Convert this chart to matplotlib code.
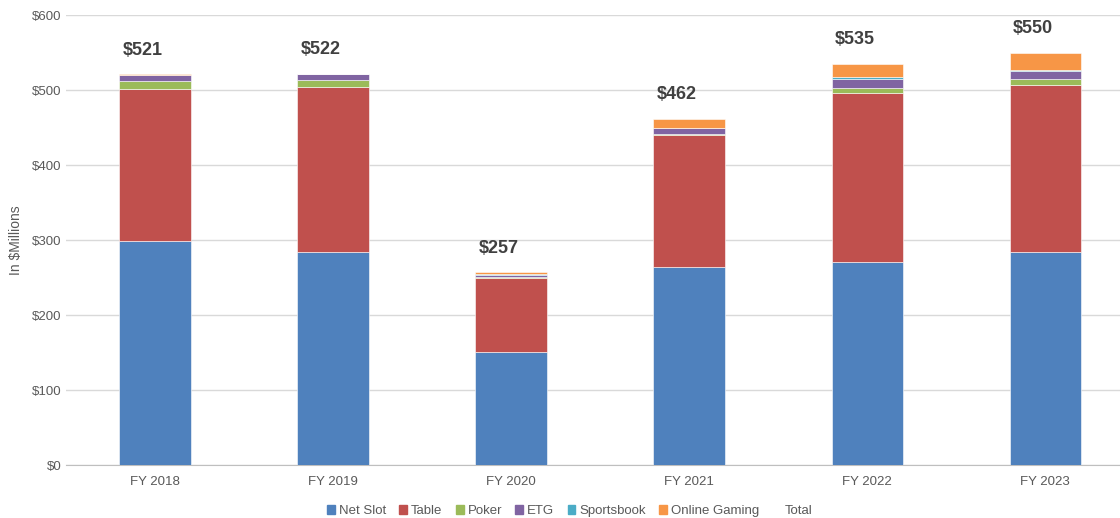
import numpy as np
import matplotlib.pyplot as plt
from matplotlib.lines import Line2D
from matplotlib.patches import Patch

plt.rcParams['font.family'] = ['Liberation Sans', 'DejaVu Sans']

years = ['FY 2018', 'FY 2019', 'FY 2020', 'FY 2021', 'FY 2022', 'FY 2023']
net_slot = [299, 284, 151, 264, 271, 284]
table = [202, 220, 98, 176, 225, 223]
poker = [11, 9, 2, 1, 7, 8]
etg = [8, 9, 3, 9, 12, 11]
sportsbook = [0, 0, 1, 0, 2, 1]
online = [1, 0, 2, 12, 18, 23]
totals = [521, 522, 257, 462, 535, 550]

series = [
    ('Net Slot', net_slot, '#4F81BD'),
    ('Table', table, '#C0504D'),
    ('Poker', poker, '#9BBB59'),
    ('ETG', etg, '#8064A2'),
    ('Sportsbook', sportsbook, '#4BACC6'),
    ('Online Gaming', online, '#F79646'),
]

fig = plt.figure(figsize=(11.2, 5.18), dpi=100)
# the plot area runs a little past the right edge of the picture
ax = fig.add_axes([0.059, 0.1023, 0.9536, 0.8687])

x = np.arange(len(years))
bottom = np.zeros(len(years))
for name, vals, color in series:
    ax.bar(x, vals, width=0.40, bottom=bottom, color=color, label=name,
           edgecolor='white', linewidth=0.4, zorder=3)
    bottom += np.array(vals)

for xi, t in zip(x, totals):
    ax.text(xi - 0.07, t + 21, f'${t}', ha='center', va='bottom',
            fontsize=13, fontweight='bold', color='#404040')

ax.set_xlim(-0.5, 5.5)
ax.set_ylim(0, 600)
ax.set_yticks(range(0, 601, 100))
ax.set_yticklabels([f'${v}' for v in range(0, 601, 100)])
ax.set_xticks(x)
ax.set_xticklabels(years)
ax.tick_params(axis='both', length=0, labelsize=9.5, labelcolor='#595959')
ax.tick_params(axis='x', pad=8)
ax.grid(axis='y', color='#D9D9D9', linewidth=1, zorder=0)
for s in ['top', 'right', 'left']:
    ax.spines[s].set_visible(False)
ax.spines['bottom'].set_color('#BFBFBF')
ax.set_ylabel('In $Millions', fontsize=10, color='#595959', labelpad=6)

handles = [Patch(color=c, label=n) for n, _, c in series]
handles.append(Line2D([], [], color='none', label='Total'))
fig.legend(handles=handles, loc='center', bbox_to_anchor=(0.5085, 0.013),
           ncol=7, frameon=False, fontsize=9.5, handlelength=0.6,
           handleheight=0.6, handletextpad=0.3, columnspacing=1.0,
           labelcolor='#595959')

fig.savefig('out.png', dpi=100)
